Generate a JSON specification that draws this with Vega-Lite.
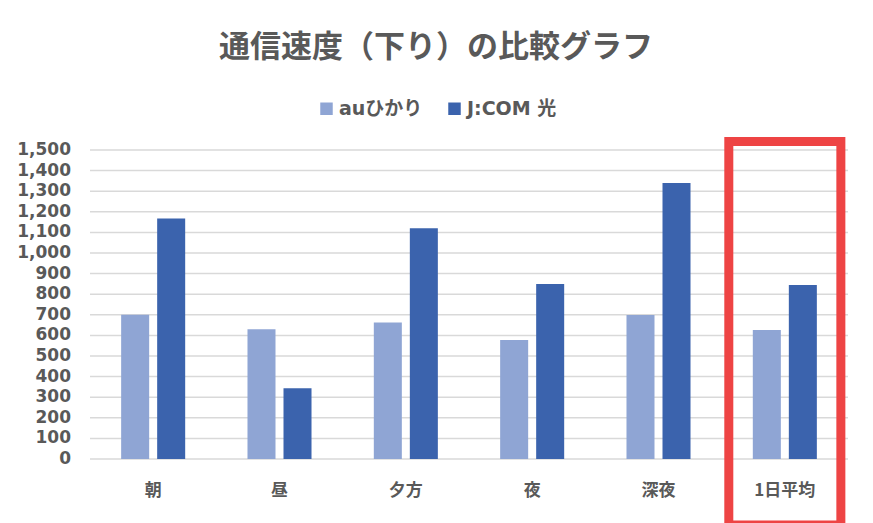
{
  "$schema": "https://vega.github.io/schema/vega-lite/v6.json",
  "width": 758,
  "height": 309,
  "autosize": {"type": "none"},
  "padding": {"left": 90, "top": 150, "right": 25, "bottom": 64},
  "background": "white",
  "title": {
    "text": "通信速度（下り）の比較グラフ",
    "font": "Noto Sans CJK JP",
    "fontSize": 31,
    "fontWeight": "bold",
    "color": "#595959",
    "anchor": "middle",
    "frame": "group",
    "dx": -33,
    "offset": 35
  },
  "datasets": {
    "speeds": [
      {"period": "朝", "provider": "auひかり", "speed": 700},
      {"period": "朝", "provider": "J:COM 光", "speed": 1168},
      {"period": "昼", "provider": "auひかり", "speed": 630},
      {"period": "昼", "provider": "J:COM 光", "speed": 343},
      {"period": "夕方", "provider": "auひかり", "speed": 663},
      {"period": "夕方", "provider": "J:COM 光", "speed": 1120},
      {"period": "夜", "provider": "auひかり", "speed": 578},
      {"period": "夜", "provider": "J:COM 光", "speed": 850},
      {"period": "深夜", "provider": "auひかり", "speed": 699},
      {"period": "深夜", "provider": "J:COM 光", "speed": 1340},
      {"period": "1日平均", "provider": "auひかり", "speed": 626},
      {"period": "1日平均", "provider": "J:COM 光", "speed": 845}
    ],
    "gridlines": [
      {"tick": 0}, {"tick": 100}, {"tick": 200}, {"tick": 300}, {"tick": 400},
      {"tick": 500}, {"tick": 600}, {"tick": 700}, {"tick": 800}, {"tick": 900},
      {"tick": 1000}, {"tick": 1100}, {"tick": 1200}, {"tick": 1300}, {"tick": 1400}, {"tick": 1500}
    ],
    "highlight": [
      {"period": "1日平均", "top": 1541, "bottom": -320}
    ]
  },
  "config": {
    "view": {"stroke": null},
    "axis": {"labelColor": "#595959", "titleColor": "#595959"}
  },
  "resolve": {"scale": {"y": "independent"}, "axis": {"y": "independent"}},
  "layer": [
    {
      "data": {"name": "gridlines"},
      "mark": {"type": "rule", "color": "#d9d9d9", "strokeWidth": 1.5},
      "encoding": {
        "y": {
          "field": "tick",
          "type": "quantitative",
          "scale": {"domain": [0, 1500], "nice": false, "zero": true},
          "axis": null
        }
      }
    },
    {
      "data": {"name": "gridlines"},
      "mark": {
        "type": "text",
        "align": "right",
        "baseline": "middle",
        "dx": -19,
        "font": "DejaVu Sans",
        "fontSize": 17,
        "fontWeight": "bold",
        "color": "#595959"
      },
      "encoding": {
        "x": {"value": 0},
        "y": {
          "field": "tick",
          "type": "quantitative",
          "scale": {"domain": [0, 1500], "nice": false, "zero": true},
          "axis": null
        },
        "text": {"field": "tick", "type": "quantitative", "format": ",d"}
      }
    },
    {
      "data": {"name": "speeds"},
      "mark": {"type": "bar"},
      "encoding": {
        "x": {
          "field": "period",
          "type": "nominal",
          "sort": ["朝", "昼", "夕方", "夜", "深夜", "1日平均"],
          "scale": {"domain": ["朝", "昼", "夕方", "夜", "深夜", "1日平均"], "paddingInner": 0, "paddingOuter": 0},
          "axis": {
            "title": null,
            "labelAngle": 0,
            "labelOverlap": false,
            "domain": false,
            "ticks": false,
            "labelFont": "Noto Sans CJK JP",
            "labelFontSize": 17,
            "labelFontWeight": "bold",
            "labelPadding": 23
          }
        },
        "xOffset": {
          "field": "provider",
          "type": "nominal",
          "sort": ["auひかり", "J:COM 光"],
          "scale": {"paddingInner": 0.222, "paddingOuter": 0.865}
        },
        "y": {
          "field": "speed",
          "type": "quantitative",
          "scale": {"domain": [0, 1500], "nice": false, "zero": true},
          "axis": null
        },
        "color": {
          "field": "provider",
          "type": "nominal",
          "sort": ["auひかり", "J:COM 光"],
          "scale": {"domain": ["auひかり", "J:COM 光"], "range": ["#8FA5D4", "#3B63AD"]},
          "legend": {
            "title": null,
            "orient": "none",
            "direction": "horizontal",
            "legendX": 227,
            "legendY": -51,
            "symbolType": "square",
            "symbolSize": 156,
            "symbolStrokeWidth": 0,
            "labelFont": "DejaVu Sans, Noto Sans CJK JP",
            "labelFontSize": 19,
            "labelFontWeight": "bold",
            "labelColor": "#595959",
            "labelOffset": 3,
            "columnPadding": 22
          }
        }
      }
    },
    {
      "data": {"name": "highlight"},
      "mark": {
        "type": "bar",
        "fill": null,
        "fillOpacity": 0,
        "stroke": "#EE4444",
        "strokeWidth": 9,
        "clip": false,
        "width": {"band": 0.887}
      },
      "encoding": {
        "x": {"field": "period", "type": "nominal", "sort": ["朝", "昼", "夕方", "夜", "深夜", "1日平均"]},
        "y": {
          "field": "top",
          "type": "quantitative",
          "scale": {"domain": [0, 1500], "nice": false, "zero": true},
          "axis": null
        },
        "y2": {"field": "bottom"}
      }
    }
  ]
}
